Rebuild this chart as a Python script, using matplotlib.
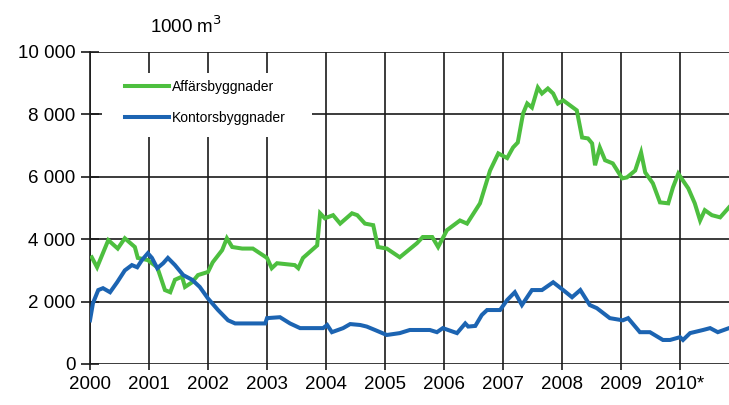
import matplotlib
matplotlib.use("Agg")
import matplotlib.pyplot as plt
from matplotlib.patches import Rectangle
from matplotlib.ticker import FixedLocator, FixedFormatter

plt.rcParams["font.family"] = ["Liberation Sans", "DejaVu Sans"]

# Affärsbyggnader, 1000 m3
aff_t = [2000.03, 2000.12, 2000.31, 2000.47, 2000.59, 2000.76, 2000.81, 2000.98,
         2001.14, 2001.27, 2001.36, 2001.44, 2001.56, 2001.61, 2001.73, 2001.83,
         2002.00, 2002.08, 2002.24, 2002.32, 2002.41, 2002.58, 2002.76, 2002.88,
         2003.00, 2003.08, 2003.17, 2003.47, 2003.53, 2003.61, 2003.85, 2003.90,
         2003.98, 2004.12, 2004.24, 2004.44, 2004.53, 2004.66, 2004.80, 2004.88,
         2005.03, 2005.25, 2005.54, 2005.64, 2005.80, 2005.90, 2006.05, 2006.27,
         2006.39, 2006.61, 2006.78, 2006.92, 2007.07, 2007.17, 2007.25, 2007.34,
         2007.41, 2007.49, 2007.59, 2007.66, 2007.76, 2007.85, 2007.93, 2008.02,
         2008.25, 2008.34, 2008.44, 2008.51, 2008.56, 2008.64, 2008.73, 2008.86,
         2009.02, 2009.10, 2009.24, 2009.34, 2009.41, 2009.54, 2009.66, 2009.80,
         2009.88, 2009.97, 2010.14, 2010.25, 2010.34, 2010.42, 2010.54, 2010.68,
         2010.83]
aff_v = [3420, 3100, 3970, 3700, 4030, 3750, 3400, 3330,
         3100, 2370, 2300, 2700, 2800, 2470, 2620, 2850,
         2950, 3260, 3650, 4030, 3750, 3700, 3700, 3550,
         3400, 3070, 3230, 3170, 3070, 3400, 3800, 4830,
         4670, 4770, 4500, 4830, 4770, 4500, 4450, 3750,
         3700, 3420, 3870, 4070, 4070, 3750, 4290, 4600,
         4500, 5150, 6200, 6750, 6600, 6940, 7100, 8030,
         8350, 8220, 8860, 8670, 8830, 8670, 8350, 8450,
         8130, 7260, 7230, 7070, 6370, 6940, 6530, 6430,
         5950, 5980, 6200, 6780, 6140, 5790, 5180, 5150,
         5660, 6100, 5630, 5150, 4600, 4930, 4770, 4700,
         5020]

# Kontorsbyggnader, 1000 m3
kon_t = [2000.00, 2000.05, 2000.14, 2000.22, 2000.34, 2000.46, 2000.59, 2000.71,
         2000.80, 2000.88, 2000.98, 2001.05, 2001.14, 2001.24, 2001.32, 2001.44,
         2001.58, 2001.73, 2001.86, 2002.00, 2002.17, 2002.34, 2002.46, 2002.63,
         2002.97, 2003.00, 2003.22, 2003.39, 2003.56, 2003.95, 2004.02, 2004.10,
         2004.29, 2004.41, 2004.58, 2004.69, 2004.83, 2005.03, 2005.25, 2005.42,
         2005.76, 2005.88, 2005.98, 2006.22, 2006.36, 2006.41, 2006.53, 2006.64,
         2006.73, 2006.95, 2007.07, 2007.20, 2007.32, 2007.49, 2007.66, 2007.85,
         2008.02, 2008.17, 2008.31, 2008.47, 2008.59, 2008.81, 2009.03, 2009.12,
         2009.32, 2009.49, 2009.71, 2009.83, 2010.00, 2010.05, 2010.17, 2010.39,
         2010.51, 2010.64, 2010.83]
kon_v = [1400, 1950, 2370, 2430, 2300, 2620, 3000, 3170,
         3100, 3330, 3550, 3400, 3070, 3230, 3400, 3170,
         2850, 2700, 2470, 2100, 1730, 1400, 1300, 1300,
         1300, 1470, 1500, 1300, 1150, 1150, 1250, 1020,
         1150, 1280, 1250, 1200, 1090, 930, 990, 1090,
         1090, 1020, 1150, 990, 1300, 1200, 1220, 1570,
         1730, 1730, 2050, 2300, 1890, 2370, 2370, 2620,
         2370, 2140, 2370, 1890, 1790, 1470, 1400, 1470,
         1020, 1020, 770, 770, 860, 770, 990, 1090,
         1150, 1020, 1150]

years = list(range(2000, 2011))
year_labels = ["2000", "2001", "2002", "2003", "2004", "2005", "2006",
               "2007", "2008", "2009", "2010*"]
y_ticks = [0, 2000, 4000, 6000, 8000, 10000]
y_labels = ["0", "2 000", "4 000", "6 000", "8 000", "10 000"]

fig = plt.figure(figsize=(7.29, 4.05), dpi=100)
ax = fig.add_axes([90 / 729, 1 - 364 / 405, 1 - 90 / 729, (364 - 52) / 405])

ax.plot(aff_t, aff_v, color="#4dbf3f", lw=2.9, label="Affärsbyggnader",
        solid_joinstyle="miter", zorder=3)
ax.plot(kon_t, kon_v, color="#1c64b2", lw=2.9, label="Kontorsbyggnader",
        solid_joinstyle="miter", zorder=3)

ax.set_xlim(2000, 2010.83)
ax.set_ylim(0, 10000)
ax.xaxis.set_major_locator(FixedLocator(years))
ax.xaxis.set_major_formatter(FixedFormatter(year_labels))
ax.yaxis.set_major_locator(FixedLocator(y_ticks))
ax.yaxis.set_major_formatter(FixedFormatter(y_labels))

ax.grid(True, color="#1a1a1a", lw=1.2)
ax.set_axisbelow(True)
for s in ["top", "right", "bottom"]:
    ax.spines[s].set_visible(False)
ax.spines["left"].set_color("#1a1a1a")
ax.spines["left"].set_linewidth(1.2)

ax.tick_params(axis="y", direction="inout", length=13, width=1.2,
               color="#1a1a1a", labelsize=13.5, pad=4)
ax.tick_params(axis="x", direction="out", length=4.5, width=1.2,
               color="#1a1a1a", labelsize=13.5, pad=4)
ax.patch.set_alpha(0)

# white box behind the legend, hiding the grid there
ax.add_patch(Rectangle((102 / 729, 1 - 137 / 405), 210 / 729, 64 / 405,
                       transform=fig.transFigure, facecolor="white",
                       edgecolor="none", zorder=2, clip_on=False))

leg = ax.legend(loc="upper left", bbox_to_anchor=(125 / 729, 1 - 80 / 405),
                bbox_transform=fig.transFigure, frameon=False, fontsize=10,
                handlelength=3.2, handletextpad=0.2, labelspacing=1.25,
                borderpad=0, borderaxespad=0)
leg.set_zorder(4)

fig.text(186 / 729, 1 - 26 / 405, "1000 m$^3$", fontsize=13.5, ha="center", va="center")

fig.savefig("out.png", dpi=100)
